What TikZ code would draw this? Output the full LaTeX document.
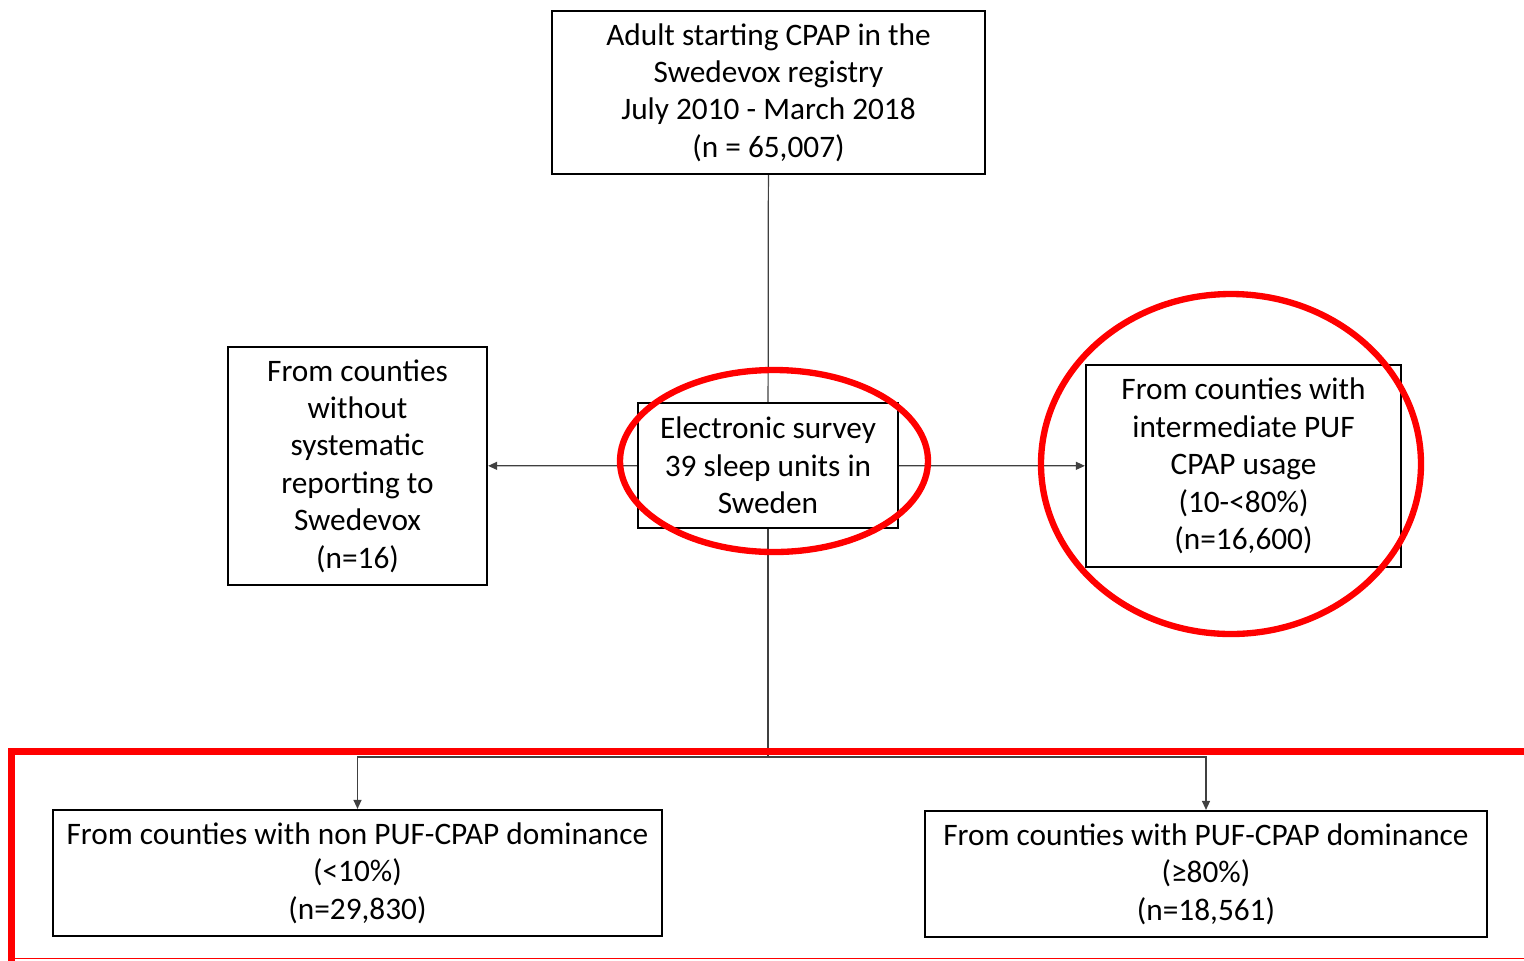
\documentclass[tikz,border=0pt]{standalone}
\usepackage{fontspec}
\setmainfont{Carlito}
\usetikzlibrary{arrows.meta,positioning}

\tikzset{
  flowbox/.style={draw=black, line width=0.6pt, align=center, inner sep=0pt,
    font=\fontsize{8.9}{10.65}\selectfont},
  link/.style={draw=black!75, line width=0.35pt},
  linkarrow/.style={link, -{Triangle[length=0.9mm,width=0.8mm]}},
  redmark/.style={draw=red, line width=1.8pt}
}

\begin{document}
\begin{tikzpicture}[x=0.01cm,y=-0.01cm]
\useasboundingbox (0,0) rectangle (1524,960);
\node[flowbox, minimum width=4.33cm, minimum height=1.63cm] (registry) at (768.5,92.5)
  {Adult starting CPAP in the\\Swedevox registry\\July 2010 - March 2018\\(n = 65,007)};
\node[flowbox, minimum width=2.60cm, minimum height=1.25cm] (survey) at (768,465.5)
  {Electronic survey\\39 sleep units in\\Sweden};
\node[flowbox, minimum width=2.59cm, minimum height=2.38cm] (noreport) at (357.5,466)
  {From counties\\without\\systematic\\reporting to\\Swedevox\\(n=16)};
\node[flowbox, minimum width=3.15cm, minimum height=2.02cm] (intermed) at (1243.5,466)
  {From counties with\\intermediate PUF\\CPAP usage\\(10-<80\%)\\(n=16,600)};
\node[flowbox, minimum width=6.09cm, minimum height=1.26cm] (nonpuf) at (357.5,873)
  {From counties with non PUF-CPAP dominance\\(<10\%)\\(n=29,830)};
\node[flowbox, minimum width=5.62cm, minimum height=1.26cm] (puf) at (1206,874)
  {From counties with PUF-CPAP dominance\\(≥80\%)\\(n=18,561)};

\coordinate (split) at (768,757);
\draw[link] (registry) -- (survey);
\draw[linkarrow] (survey) -- (noreport);
\draw[linkarrow] (survey) -- (intermed);
\draw[link] (survey) -- (split);
\draw[linkarrow] (split) -| (nonpuf.north);
\draw[linkarrow] (split) -| (puf.north);

\draw[redmark] (774,461) ellipse (154 and 91);
\draw[redmark] (1231,464) ellipse (190 and 170);
\draw[redmark, line width=2pt] (1540,751.5) -- (11.5,751.5) -- (11.5,962);
\draw[draw=red, line width=0.5pt] (11.5,958.5) -- (1540,958.5);
\end{tikzpicture}
\end{document}
